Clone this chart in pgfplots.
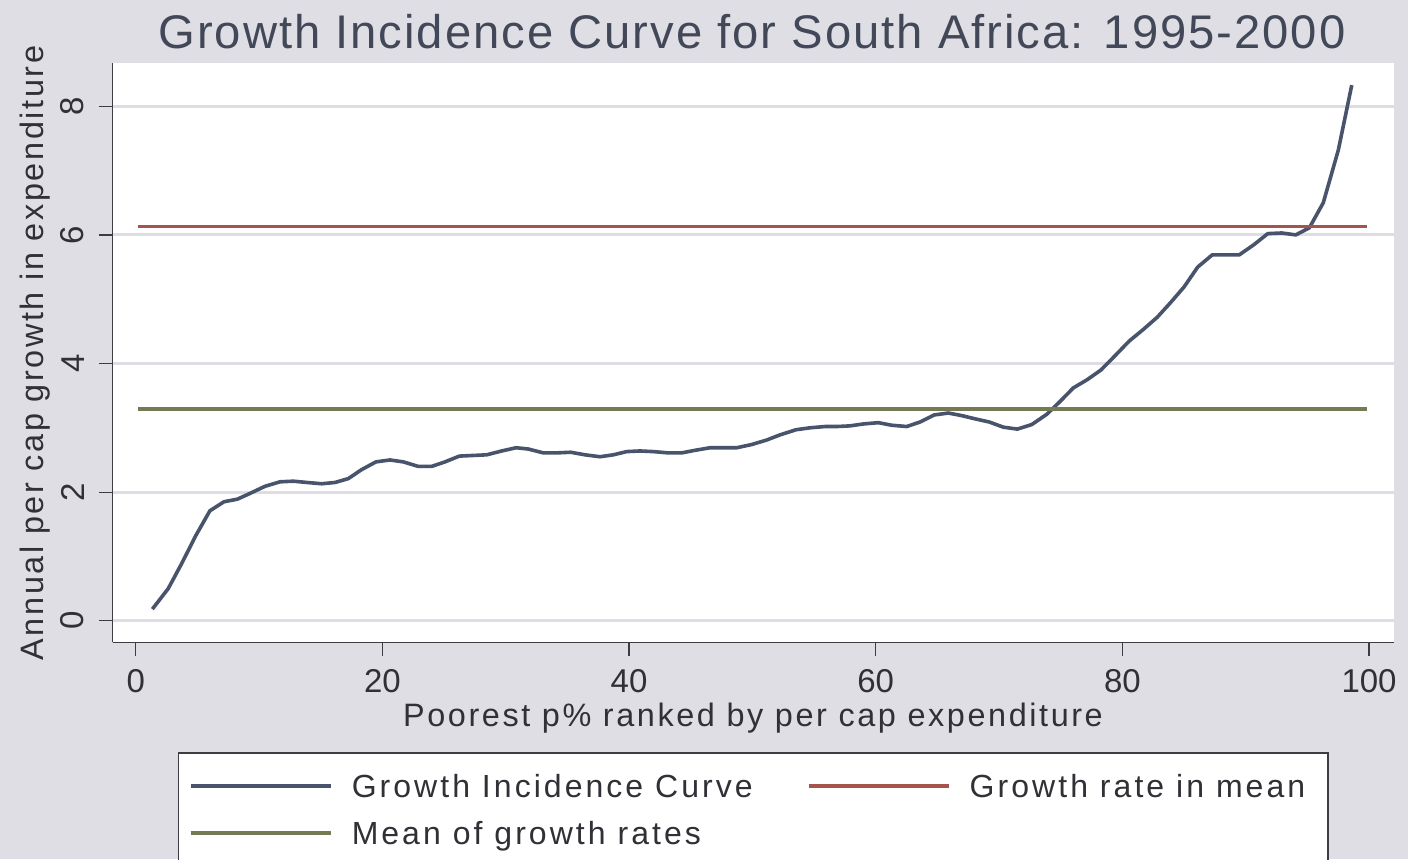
\documentclass[border=0pt]{standalone}
\usepackage{fontspec}
\setmainfont{Liberation Sans}
\newfontfamily\titlefont{Liberation Sans}[LetterSpace=4.2]
\newfontfamily\labelfont{Liberation Sans}[LetterSpace=8]
\newfontfamily\legfont{Liberation Sans}[LetterSpace=9.5]
\usepackage{pgfplots}
\pgfplotsset{compat=1.18}
\definecolor{bgcol}{RGB}{222,222,228}
\definecolor{gridcol}{RGB}{221,221,227}
\definecolor{axiscol}{RGB}{60,60,66}
\definecolor{textcol}{RGB}{48,48,54}
\definecolor{titlecol}{RGB}{66,72,88}
\definecolor{gicol}{RGB}{72,84,108}
\definecolor{redcol}{RGB}{165,84,75}
\definecolor{greencol}{RGB}{118,122,84}

\pgfplotstableread{
x y
1.35 0.18
2.64 0.50
3.73 0.89
4.89 1.33
6.02 1.71
7.16 1.85
8.24 1.89
9.27 1.98
10.48 2.09
11.70 2.16
12.78 2.17
13.87 2.15
15.08 2.13
16.16 2.15
17.24 2.21
18.32 2.35
19.48 2.47
20.62 2.50
21.70 2.47
22.91 2.40
24.00 2.40
25.08 2.47
26.24 2.56
27.37 2.57
28.46 2.58
29.68 2.64
30.84 2.69
31.83 2.67
33.05 2.61
34.14 2.61
35.27 2.62
36.43 2.58
37.65 2.55
38.73 2.58
39.81 2.63
40.89 2.64
41.97 2.63
43.18 2.61
44.27 2.61
45.35 2.65
46.57 2.69
47.64 2.69
48.73 2.69
49.95 2.74
51.16 2.81
52.24 2.89
53.54 2.97
54.67 3.00
55.89 3.02
56.84 3.02
57.92 3.03
59.00 3.06
60.21 3.08
61.30 3.04
62.52 3.02
63.59 3.09
64.75 3.20
65.89 3.23
66.97 3.19
68.05 3.14
69.21 3.09
70.35 3.01
71.48 2.98
72.65 3.05
73.87 3.21
74.95 3.41
76.02 3.62
77.16 3.75
78.27 3.90
79.40 4.12
80.56 4.35
81.70 4.53
82.83 4.72
83.92 4.95
85.00 5.19
86.11 5.50
87.29 5.69
88.46 5.69
89.48 5.69
90.68 5.85
91.79 6.02
92.92 6.03
94.06 6.00
95.16 6.11
96.29 6.50
97.51 7.32
98.60 8.33
}\gicdata

\begin{document}
\begin{tikzpicture}
\fill[bgcol] (0,0) rectangle (704pt,429.5pt);
\useasboundingbox (0,0) rectangle (704pt,429.5pt);
\begin{axis}[
  at={(56.35pt,108.35pt)}, anchor=south west,
  scale only axis, width=640.8pt, height=289.5pt,
  xmin=-1.865, xmax=102.05, ymin=-0.336, ymax=8.669,
  axis lines=left, tick pos=left,
  axis line style={-, line width=0.75pt, color=axiscol},
  axis background/.style={fill=white},
  xtick={0,20,40,60,80,100}, ytick={0,2,4,6,8},
  tick align=outside, major tick length=7pt,
  tick style={line width=0.6pt, color=axiscol},
  ymajorgrids, major grid style={line width=1.5pt, color=gridcol},
  /pgf/number format/assume math mode=true,
  ticklabel style={font=\fontsize{16.5pt}{20pt}\selectfont, text=textcol, inner sep=0pt},
  xticklabel style={anchor=north, yshift=-6.5pt},
  yticklabel style={rotate=90, anchor=south, yshift=7pt},
  legend columns=2,
  legend cell align=left,
  legend style={at={(axis description cs:0.05095,-0.18946)}, anchor=north west,
    draw=axiscol, line width=0.75pt, fill=white,
    inner xsep=5pt, inner ysep=10.7pt, column sep=0pt, row sep=12pt,
    font=\legfont\fontsize{16pt}{19pt}\selectfont, text=textcol,
    nodes={inner sep=0pt, text height=11.5pt, text depth=0pt}},
  legend image code/.code={\draw[#1, line width=2pt] (0pt,0pt) -- (70pt,0pt); \path[draw=none, fill=none] (0pt,0pt) -- (80.5pt,0pt);},
]
\addplot[gicol, line width=1.8pt, line join=round] table[x=x,y=y] {\gicdata};
\addlegendentry{\makebox[227.5pt][l]{Growth Incidence Curve}}
\addplot[redcol, line width=1.7pt] coordinates {(0.21,6.13) (99.81,6.13)};
\addlegendentry{\makebox[174pt][l]{Growth rate in mean}}
\addplot[greencol, line width=1.7pt] coordinates {(0.21,3.29) (99.81,3.29)};
\addlegendentry{\makebox[227.5pt][l]{Mean of growth rates}}
\end{axis}
\node[anchor=base, font=\titlefont\fontsize{23.6pt}{28pt}\selectfont, text=titlecol] at (376pt,405pt) {Growth Incidence Curve for South Africa: 1995-2000};
\node[anchor=base, font=\labelfont\fontsize{16.2pt}{19pt}\selectfont, text=textcol] at (376.5pt,66.5pt) {Poorest p\% ranked by per cap expenditure};
\node[anchor=base, rotate=90, font=\labelfont\fontsize{16.2pt}{19pt}\selectfont, text=textcol] at (21.5pt,253pt) {Annual per cap growth in expenditure};
\end{tikzpicture}
\end{document}
